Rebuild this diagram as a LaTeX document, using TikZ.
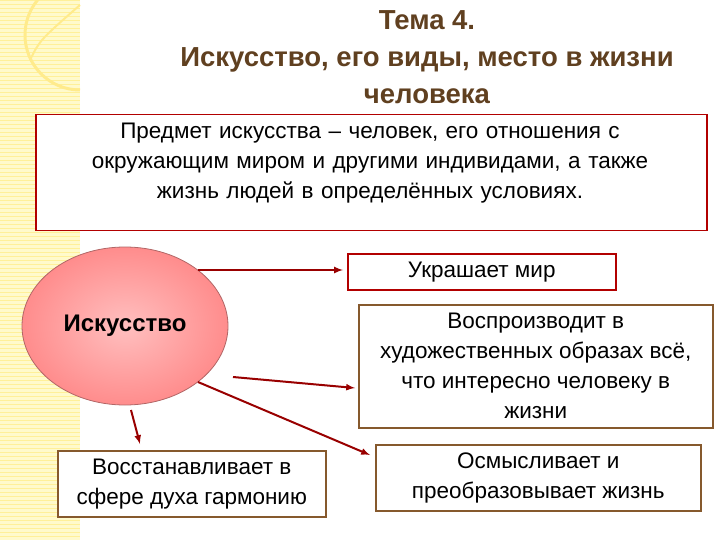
\documentclass[tikz,border=0pt]{standalone}
\usepackage{fontspec}
\setmainfont{Liberation Sans}
\usetikzlibrary{shapes.geometric}
\begin{document}
\begin{tikzpicture}[x=1pt,y=-1pt,
  tx/.style={font=\fontsize{22.5}{30}\selectfont,align=center,text=black},
  rbox/.style={draw=red!70!black,line width=1.5pt,fill=white},
  bbox/.style={draw=brown!70!black,line width=1.5pt,fill=white},
  arr/.style={-latex,draw=red!60!black,line width=2pt}]
\useasboundingbox (0,0) rectangle (720,540);
\fill[white] (0,0) rectangle (720,540);
\fill[orange!20!yellow!20!white] (0,0) rectangle (80,540);
\foreach \y in {0,4,...,540} \draw[orange!30!yellow!40!white,line width=0.8pt] (0,\y) -- (80,\y);
\draw[orange!35!yellow!45!white,line width=3pt] (80,90) arc (90:270:55);
\draw[orange!35!yellow!45!white,line width=2pt] (80,5) .. controls (40,40) .. (30,60);
\node[font=\bfseries\fontsize{27.5}{37}\selectfont,text=brown!50!black,align=center] (title) at (427,57)
 {Тема 4.\\Искусство, его виды, место в жизни\\человека};
\node[rbox,minimum width=671,minimum height=116,anchor=north west,inner sep=0] (main) at (35,114) {};
\node[tx,text width=660] (maintext) at (370,163) {Предмет искусства – человек, его отношения с\\окружающим миром и другими индивидами, а также\\жизнь людей в определённых условиях.};
\node[ellipse,draw=red!50!black!60,line width=0.8pt,inner color=red!25,outer color=red!45,minimum width=206,minimum height=158] (art) at (125,326) {};
\node[font=\bfseries\fontsize{24}{28}\selectfont] (artlabel) at (art) {Искусство};
\node[rbox,anchor=north west,minimum width=268,minimum height=36,inner sep=0] (b1) at (347,253) {};
\node[tx] (b1t) at (b1) {Украшает мир};
\node[bbox,anchor=north west,minimum width=354,minimum height=123,inner sep=0] (b2) at (358,304) {};
\node[tx] (b2t) at (b2) {Воспроизводит в\\художественных образах всё,\\что интересно человеку в\\жизни};
\node[bbox,anchor=north west,minimum width=325,minimum height=66,inner sep=0] (b3) at (375,444) {};
\node[tx] (b3t) at (b3) {Осмысливает и\\преобразовывает жизнь};
\node[bbox,anchor=north west,minimum width=268,minimum height=66,inner sep=0] (b4) at (57,450) {};
\node[tx] (b4t) at (b4) {Восстанавливает в\\сфере духа гармонию};
\coordinate (s1) at (198,270); \coordinate (s2) at (233,377);
\coordinate (s3) at (198,382); \coordinate (s4) at (131,410);
\coordinate (e1) at (343,270); \coordinate (e2) at (355,388);
\coordinate (e3) at (370,455); \coordinate (e4) at (140,444);
\draw[arr] (s1) -- (e1);
\draw[arr] (s2) -- (e2);
\draw[arr] (s3) -- (e3);
\draw[arr] (s4) -- (e4);
\end{tikzpicture}
\end{document}
